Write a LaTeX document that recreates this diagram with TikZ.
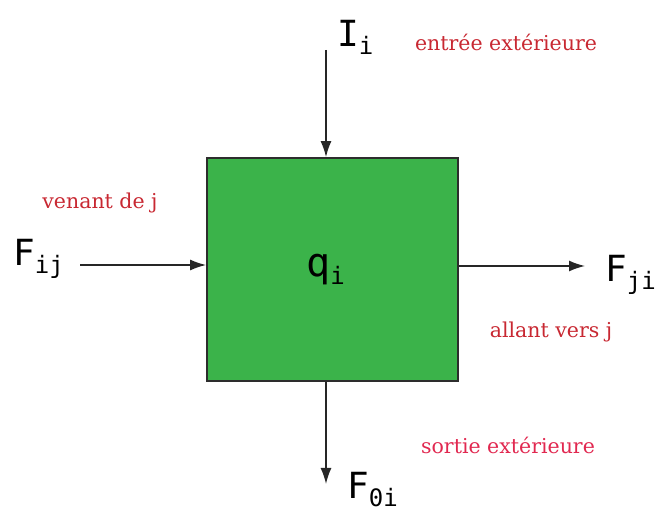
\documentclass[tikz,border=0pt]{standalone}
\usepackage{fontspec}
\newfontfamily\lblfont{DejaVu Sans Mono}
\newfontfamily\notefont{DejaVu Serif}
\usetikzlibrary{arrows.meta}
\definecolor{boxgreen}{RGB}{59,179,74}
\definecolor{boxedge}{RGB}{45,45,45}
\definecolor{notered}{RGB}{200,40,50}
\definecolor{notepink}{RGB}{225,40,80}
\newcommand{\lbl}[3][36]{{\lblfont\fontsize{#1}{#1}\selectfont #2\raisebox{-8pt}{\fontsize{24}{24}\selectfont #3}}}
\begin{document}
\begin{tikzpicture}[x=1pt,y=-1pt,
  box/.style={draw=boxedge,line width=1.8pt,fill=boxgreen,minimum width=251pt,minimum height=223pt,inner sep=0pt},
  flow/.style={draw=black!85,line width=1.5pt,-{Latex[length=16pt,width=11pt]}},
  lab/.style={inner sep=0pt},
  note/.style={inner sep=0pt,font=\notefont\fontsize{20.5}{20.5}\selectfont}]
\useasboundingbox (0,0) rectangle (657,513);
\node[box] (q) at (332.5,269.5) {\hspace*{-14pt}\lbl[40]{q}{i}};
% labels
\node[lab,anchor=base west] (I) at (337,47) {\lbl{I}{i}};
\node[lab,anchor=base west] (Fij) at (13,266) {\lbl{F}{ij}};
\node[lab,anchor=base west] (Fji) at (605,282) {\lbl{F}{ji}};
\node[lab,anchor=base west] (F0i) at (347,499) {\lbl{F}{0i}};
% notes
\node[note,text=notered] (n1) at (506,42) {entrée extérieure};
\node[note,text=notered] (n2) at (100,203) {venant de j};
\node[note,text=notered] (n3) at (551,332) {allant vers j};
\node[note,text=notepink] (n4) at (508,445) {sortie extérieure};
% connector end points
\coordinate (itop) at (326,50);
\coordinate (lstart) at (80,265);
\coordinate (rend) at (585,266);
\coordinate (bend) at (326,484);
\draw[flow] (itop) -- (itop |- q.north);
\draw[flow] (lstart) -- (lstart -| q.west);
\draw[flow] (rend -| q.east) -- (rend);
\draw[flow] (bend |- q.south) -- (bend);
\end{tikzpicture}
\end{document}
